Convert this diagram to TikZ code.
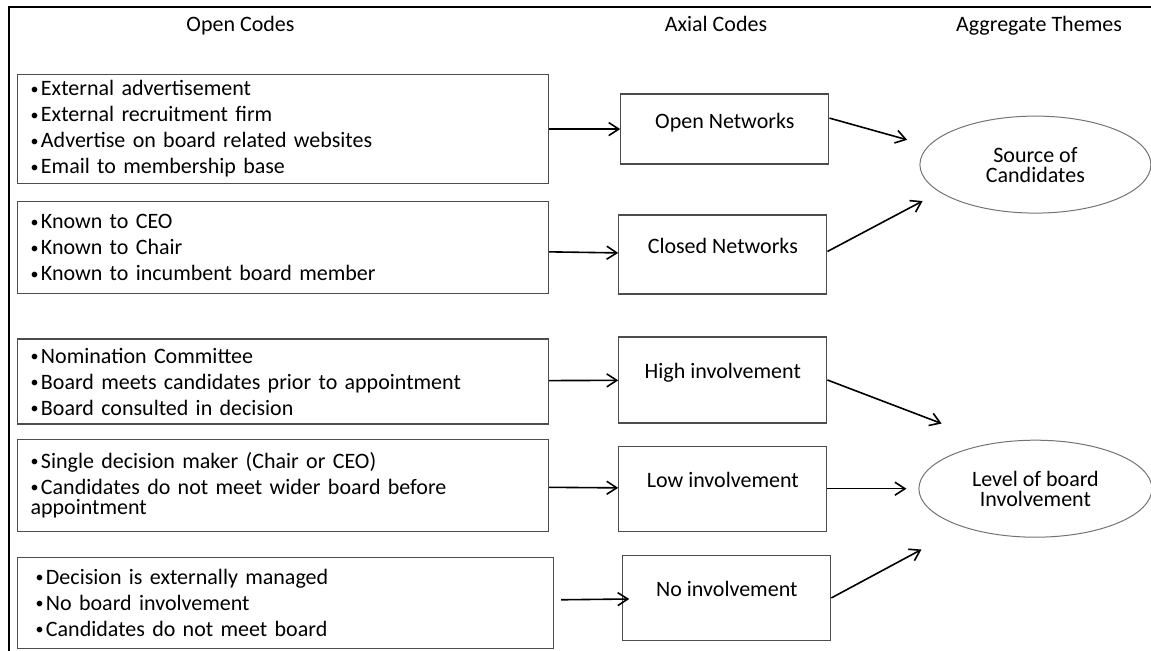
\documentclass[tikz,border=0pt]{standalone}
\usepackage{fontspec}
\setmainfont{Carlito}
\usetikzlibrary{arrows.meta,positioning,shapes.geometric}
\newcommand{\bul}{\raisebox{0.9pt}{\fontsize{8}{8}\selectfont •}\hspace{1.2pt}}

\begin{document}
\begin{tikzpicture}[x=0.5pt, y=-0.5pt, line/.style={-{Straight Barb[length=5pt,width=6.5pt]}, line width=0.8pt}, head/.style={font=\fontsize{11}{13}\selectfont, text height=8pt, text depth=2.5pt, inner sep=0pt}, codebox/.style={rectangle, draw=black!70, line width=0.6pt, align=left, text width=252.5pt, inner xsep=6.5pt, inner ysep=0pt, font=\fontsize{11}{10}\selectfont}, axbox/.style={rectangle, draw=black!70, line width=0.6pt, minimum width=104pt, text height=7pt, text depth=8pt, font=\fontsize{11}{13}\selectfont}, theme/.style={ellipse, draw=black!55, line width=0.5pt, align=center, inner sep=0pt, font=\fontsize{11}{10}\selectfont}]
\useasboundingbox (0,0) rectangle (1151,651);
\draw[line width=1pt] (9,651) -- (9,7) -- (1151,7);
\node[head] (hopen) at (240.5,26.5) {Open Codes};
\node[head] (haxial) at (716,26.5) {Axial Codes};
\node[head] (htheme) at (1039,26.5) {Aggregate Themes};
\node[codebox, minimum height=54.5pt, anchor=north west] (o1) at (17,74) {\bul External advertisement\\[3pt]\bul External recruitment firm\\[3pt]\bul Advertise on board related websites\\[3pt]\bul Email to membership base};
\node[codebox, minimum height=46pt, below=8.5pt of o1] (o2) {\bul Known to CEO\\[3pt]\bul Known to Chair\\[3pt]\bul Known to incumbent board member};
\node[codebox, minimum height=42.5pt, below=22pt of o2] (o3) {\bul Nomination Committee\\[3pt]\bul Board meets candidates prior to appointment\\[3pt]\bul Board consulted in decision};
\node[codebox, minimum height=46pt, below=7pt of o3] (o4) {\bul Single decision maker (Chair or CEO)\\[3pt]\bul Candidates do not meet wider board before\\appointment};
\node[codebox, minimum height=45.5pt, text width=250pt, inner xsep=9pt, below right=12.5pt and 0pt of o4.south west] (o5) {\bul Decision is externally managed\\[3pt]\bul No board involvement\\[3pt]\bul Candidates do not meet board};
\node[axbox, minimum height=35pt, right=35.5pt of o1] (a1) {Open Networks};
\node[axbox, minimum height=39.5pt, right=34.5pt of o2, yshift=-3.35pt] (a2) {Closed Networks};
\node[axbox, minimum height=43pt, right=34.5pt of o3, yshift=0.75pt] (a3) {High involvement};
\node[axbox, minimum height=42.5pt, right=34.5pt of o4, yshift=-1.75pt] (a4) {Low involvement};
\node[axbox, minimum height=42.5pt, right=34pt of o5, yshift=2.5pt] (a5) {No involvement};
\node[theme, minimum width=115.5pt, minimum height=48.5pt, right=45pt of a1, yshift=-17.75pt] (s1) {Source of\\Candidates};
\node[theme, minimum width=116.5pt, minimum height=48.5pt, right=45.5pt of a4] (l1) {Level of board\\Involvement};
\draw[line] (o1) -- (a1);
\draw[line] (o2) -- (a2);
\draw[line] (o3) -- (a3);
\draw[line] (o4) -- (a4);
\draw[line, shorten <=3.5pt, shorten >=-3.5pt] (o5) -- (a5);
\draw[line, shorten >=11pt] ([yshift=5.5pt]a1.east) -- (s1.170);
\draw[line, shorten >=9.5pt] ([yshift=1.5pt]a2.east) -- (s1.196);
\draw[line, shorten >=27.4pt] (a3.east) -- (l1.133);
\draw[line, shorten >=6pt] (a4) -- (l1);
\draw[line, shorten >=23.6pt] (a5.east) -- (l1.208);
\end{tikzpicture}
\end{document}
